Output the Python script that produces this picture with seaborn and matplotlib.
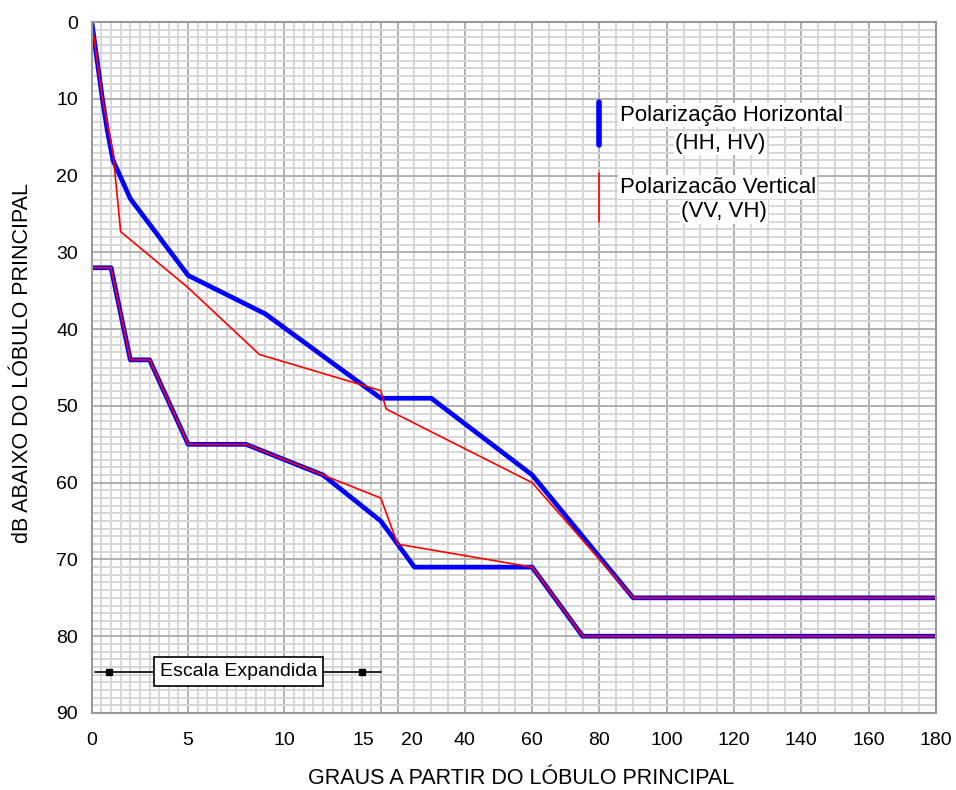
import numpy as np
import matplotlib
matplotlib.use("Agg")
import matplotlib.pyplot as plt
import matplotlib.transforms as mtransforms
import seaborn as sns

# upper envelope (main lobe side)
hh_up_deg = [0, 0.25, 0.55, 0.8, 1.1, 2.0, 5.0, 9.0, 15.0, 30.0, 60.0, 90.0, 180.0]
hh_up_db = [0, 4.5, 10, 14, 18, 23, 33, 38, 49, 49, 59, 75, 75]
vv_up_deg = [0, 0.25, 0.55, 1.1, 1.5, 5.0, 8.7, 15.0, 16.6, 60.0, 90.0, 180.0]
vv_up_db = [0, 4.5, 10, 17, 27.3, 34.6, 43.3, 48, 50.4, 60, 75, 75]

# lower envelope
hh_lo_deg = [0, 1.0, 2.0, 3.0, 5.0, 8.0, 12.0, 15.0, 25.0, 60.0, 75.0, 180.0]
hh_lo_db = [32, 32, 44, 44, 55, 55, 59, 65, 71, 71, 80, 80]
vv_lo_deg = [0, 1.0, 2.0, 3.0, 5.0, 8.0, 12.0, 15.0, 20.0, 60.0, 75.0, 180.0]
vv_lo_db = [32, 32, 44, 44, 55, 55, 59, 62, 68, 71, 80, 80]

x_ticks = [0, 5, 10, 15, 20, 40, 60, 80, 100, 120, 140, 160, 180]
y_ticks = list(range(0, 91, 10))

# expanded scale 0-15, compressed 15-180
K = 0.1746
KNOT_D = np.array([0.0, 15.0, 180.0])
KNOT_U = np.array([0.0, 15.0, 15.0 + 165.0 * K])


def fwd(x):
    return np.interp(x, KNOT_D, KNOT_U)


def inv(u):
    return np.interp(u, KNOT_U, KNOT_D)


sns.set_style("white")
plt.rcParams['font.family'] = ['Liberation Sans', 'DejaVu Sans']
plt.rcParams['text.color'] = 'black'
plt.rcParams['axes.labelcolor'] = 'black'
plt.rcParams['xtick.color'] = 'black'
plt.rcParams['ytick.color'] = 'black'

fig = plt.figure(figsize=(9.56, 7.9), dpi=100)
ax = fig.add_axes([0.096, 0.0975, 0.883, 0.8745])
ax.set_xscale('function', functions=(fwd, inv))
ax.set_xlim(0, 180)
ax.set_ylim(90, 0)

# grid
minor_x = list(np.arange(0, 15.01, 0.5)) + list(range(25, 180, 5))
ax.set_xticks(x_ticks)
ax.set_xticks(minor_x, minor=True)
ax.set_yticks(y_ticks)
ax.set_yticks(range(0, 91), minor=True)
ax.grid(which='minor', color='#d6d6d6', lw=1.4)
ax.grid(which='major', color='#b0b0b0', lw=1.4)
ax.set_axisbelow(True)
ax.tick_params(which='both', length=0)
ax.tick_params(axis='x', pad=14, labelsize=14)
ax.tick_params(axis='y', pad=10, labelsize=14)
for s in ax.spines.values():
    s.set_color('#999999')
    s.set_linewidth(1.5)

# curves: blue thick underneath, red thin on top
sns.lineplot(x=hh_up_deg, y=hh_up_db, sort=False, estimator=None, color='#0000ff', lw=3.4, ax=ax)
sns.lineplot(x=hh_lo_deg, y=hh_lo_db, sort=False, estimator=None, color='#0000ff', lw=3.4, ax=ax)
sns.lineplot(x=vv_up_deg, y=vv_up_db, sort=False, estimator=None, color='#ff0000', lw=1.2, ax=ax)
sns.lineplot(x=vv_lo_deg, y=vv_lo_db, sort=False, estimator=None, color='#ff0000', lw=1.2, ax=ax)

ax.set_xticks(x_ticks)
ax.set_xticklabels([str(t) for t in x_ticks])
ax.set_yticks(y_ticks)
labels = ax.get_xticklabels()
labels[3].set_transform(labels[3].get_transform() + mtransforms.ScaledTranslation(-0.17, 0, fig.dpi_scale_trans))
labels[4].set_transform(labels[4].get_transform() + mtransforms.ScaledTranslation(0.14, 0, fig.dpi_scale_trans))

ax.set_xlabel("GRAUS A PARTIR DO LÓBULO PRINCIPAL", fontsize=15.5)
ax.set_ylabel("dB ABAIXO DO LÓBULO PRINCIPAL", fontsize=15.5)
ax.xaxis.set_label_coords(0.509, -0.080)
ax.yaxis.set_label_coords(-0.070, 0.507)

# legend drawn by hand
ax.plot([80, 80], [10.4, 16.0], color='#0000ff', lw=4, solid_capstyle='round')
ax.plot([80, 80], [19.7, 26.0], color='#ff0000', lw=1.2)
box = dict(facecolor='white', edgecolor='none', pad=1)
ax.text(86, 12.1, "Polarização Horizontal", fontsize=16, va='center', ha='left', bbox=box)
ax.text(116, 15.8, "(HH, HV)", fontsize=16, va='center', ha='center', bbox=box)
ax.text(86, 21.5, "Polarizacão Vertical", fontsize=16, va='center', ha='left', bbox=box)
ax.text(117, 24.7, "(VV, VH)", fontsize=16, va='center', ha='center', bbox=box)

# expanded-scale marker
ax.plot([0.15, 15], [84.6, 84.6], color='black', lw=1.2)
ax.plot([0.9, 14.0], [84.6, 84.6], ls='none', marker='s', ms=5, color='black')
ax.text(7.6, 84.6, "Escala Expandida", fontsize=14, ha='center', va='center',
        bbox=dict(facecolor='white', edgecolor='black', lw=1.2, boxstyle='square,pad=0.3'))

fig.savefig("out.png", dpi=100)
